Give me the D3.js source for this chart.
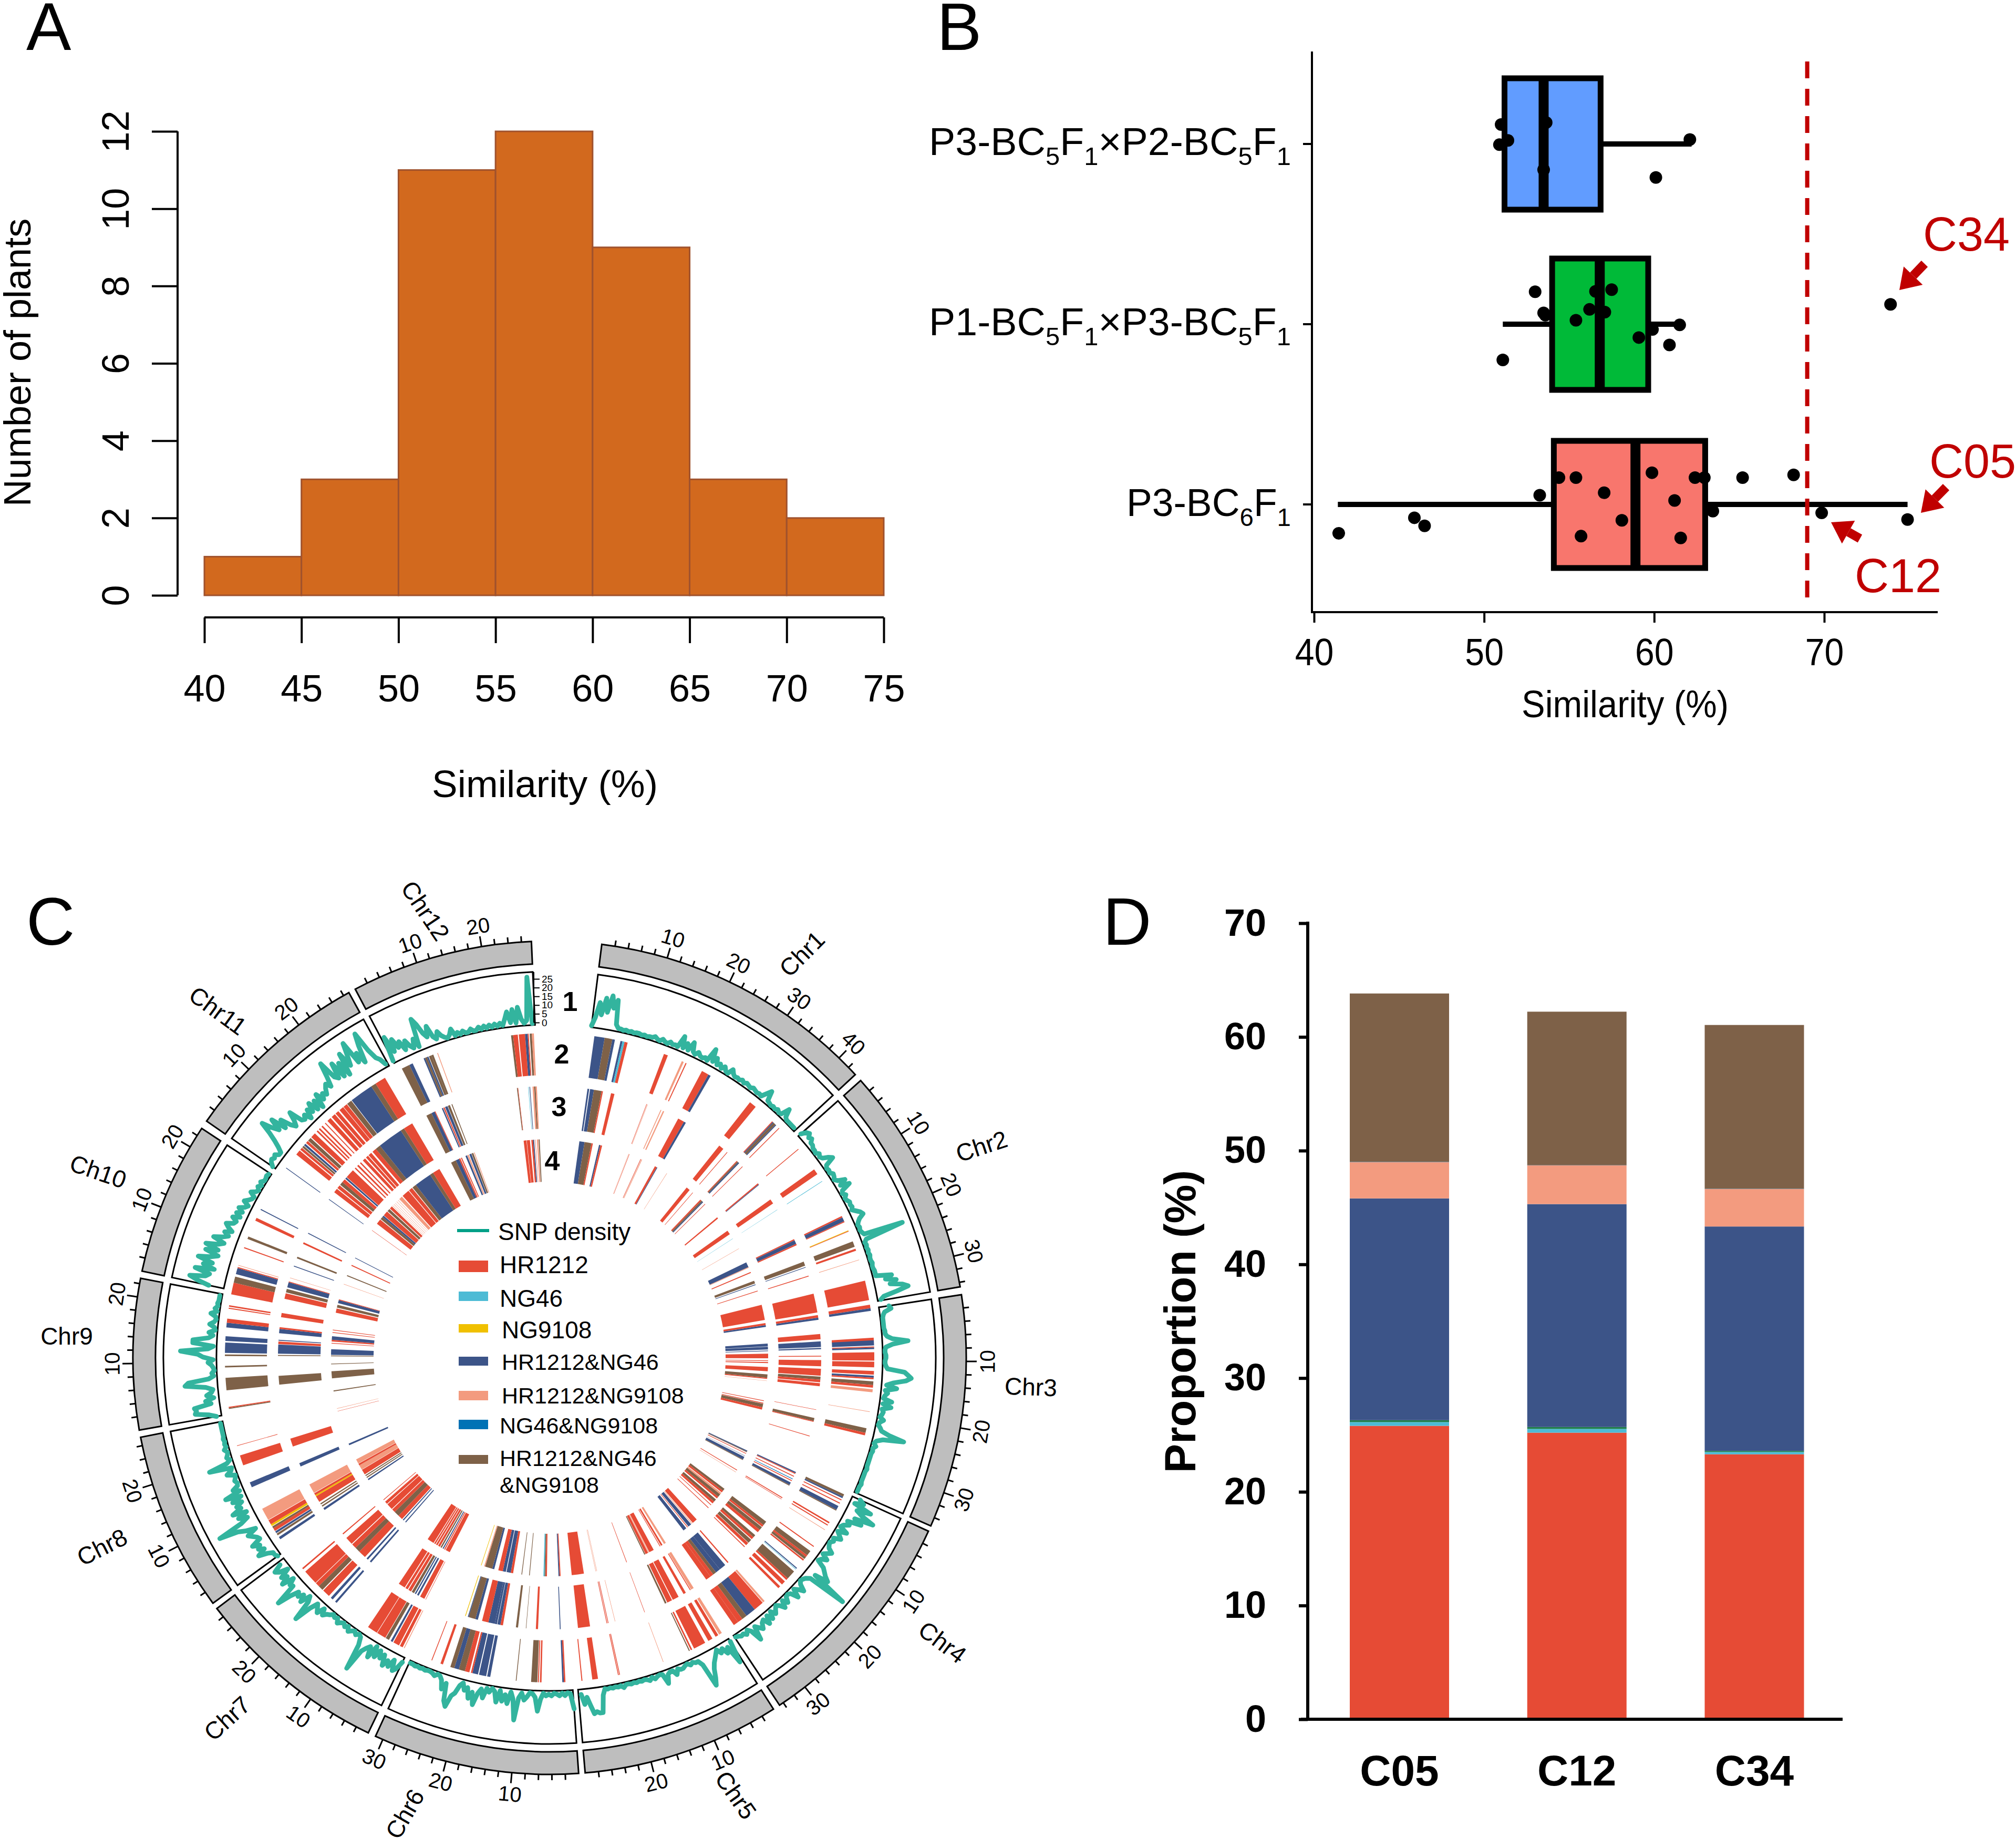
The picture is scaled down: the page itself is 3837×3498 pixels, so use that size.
<!DOCTYPE html>
<html><head><meta charset="utf-8">
<script src="https://cdn.jsdelivr.net/npm/d3@7"></script>
<style>html,body{margin:0;padding:0;background:#fff}svg{display:block}text{font-family:"Liberation Sans",Arial,sans-serif;fill:#000}</style>
</head><body><svg id="c" width="3837" height="3498" viewBox="0 0 3837 3498"></svg>
<script>
// ---------- Panel A ----------
const histEdges=[40,45,50,55,60,65,70,75];
const histCounts=[1,3,11,12,9,3,2];
const histYTicks=[0,2,4,6,8,10,12];
// ---------- Panel B ----------
const boxCategories=["P3-BC5F1×P2-BC5F1","P1-BC5F1×P3-BC5F1","P3-BC6F1"];
const boxColors=["#619CFF","#00BA38","#F8766D"];
const boxQ1=[51.2,54.0,54.1];
const boxMedian=[53.5,56.8,58.9];
const boxQ3=[56.85,59.65,63.0];
const boxWhiskerLow=[51.2,51.1,41.4];
const boxWhiskerHigh=[62.2,61.5,74.9];
const pointsValue1=[51.0,53.65,51.4,50.9,62.1,60.1,53.5];
const pointsJitter1=[-.108,-.119,-.02,.004,-.025,.186,.143];
const pointsValue2=[53.0,53.5,53.6,56.55,57.5,56.2,55.4,57.1,59.1,59.9,61.5,60.9,51.1,73.9];
const pointsJitter2=[-.18,-.063,-.05,-.182,-.192,-.082,-.022,-.067,.074,.029,.004,.115,.198,-.11];
const pointsValue3=[53.27,54.4,55.4,57.06,59.87,62.4,62.95,65.2,68.2,61.2,63.45,69.85,74.9,58.1,55.7,61.56,45.9,46.5,41.45];
const pointsJitter3=[-.051,-.149,-.149,-.065,-.176,-.149,-.149,-.149,-.164,-.022,.037,.047,.084,.088,.176,.186,.074,.119,.16];
const similarityCut=69;
// ---------- Panel D ----------
const stackCats=["C05","C12","C34"];
const valHR1212=[25.8,25.2,23.3];
const valNG46=[0.33,0.33,0.2];
const valNG9108=[0.17,0.17,0.1];
const valHRNG46=[19.5,19.6,19.73];
const valHRNG9108=[3.2,3.4,3.3];
const valNGNG=[0.02,0.02,0.02];
const valAll=[14.8,13.5,14.4];
const typeNames=["HR1212","NG46","NG9108","HR1212&NG46","HR1212&NG9108","NG46&NG9108","HR1212&NG46&NG9108"];
const typeCodes=["R","C","Y","B","P","N","K"];
const typeColors=["#E64B35","#4DBBD5","#F0C000","#3C5488","#F39B7F","#0072B5","#7E6148"];
const stackColors=["#E64B35","#4DBBD5","#1E7D4A","#3C5488","#F39B7F","#0072B5","#7E6148"];
// ---------- Panel C ----------
const chrNames=["Chr1","Chr2","Chr3","Chr4","Chr5","Chr6","Chr7","Chr8","Chr9","Ch10","Chr11","Chr12"];
const chrStartDeg=[7.2,48.3,81.3,114.6,147.5,176,205.8,233.9,260,282,304.6,332.2];
const chrEndDeg=[47.2,80.2,113.8,146.5,175.1,204.7,233,259,281,303.4,331.2,357.5];
const chrLength=[43.5,34.7,35.3,34.7,29.9,31.2,29.6,27.3,22.8,23.3,28.9,27.5];
const chrLabelX=[1526,1868,1962,1794,1401,770,432,194,127,187,415,810];
const chrLabelY=[1815,2181,2639,3125,3416,3452,3270,2944,2542,2229,1923,1733];
const chrLabelRot=[-45,-18,2,37,55,-60,-42,-27,0,19,36,56];
const snp1=[0,5,14,7,17,9,19,12,17,3,1,1,.5,1,.5,1,.5,1,1,.5,1,.5,1,1,2,1,.5,2,1,.5,2,1,1.5,1,8,1.5,5,1.5,7,2,1,3,1.5,1,2,1,9,2,5,1.5,3,1,3,1,.5,4,2,1,1.5,1,2,1,2,1.5,1,2,1.5,1,1.5,1,4,7,1.5,1,.5,1,.5,1.5,.5,1,6,1.5,.5,.5,.5,.5,.5];
const snp2=[1,4,5,3,4,2,2,1,1,.5,2,1,2,5,7,1.5,.5,1,.5,2,1.5,.5,2,6,2,7,1.5,.5,2,.5,1,2,1.5,2,1,3,5,6,3,1.5,.5,1,.5,1,2,25,2,.5,1,.5,1,.5,1,.5,.5,1,.5,.5,1,1,1,10,6,12,8,15,18,11,3,1];
const snp3=[5,6,2,1,.5,.5,.5,.5,.5,1,1,2,5,14,5,1,.5,.5,1,1,.5,.5,1,2,12,14,16,13,6,2,8,1.5,3,1.5,1,6,1,6,1,2,1.5,.5,3,1,.5,2,3,8,17,5,1.5,.5,2,.5,1,.5,.5,.5,.5,.5,.5,1,.5,.5,.5,.5,.5,1,.5,.5,.5];
const snp4=[4,7,2,13,5,9,17,6,11,3,5,2,1,6,1,3,5,1,2,.5,1,2,5,3,1,5,2,1,6,8,10,13,5,27,4,2,1,.5,2,6,3,1,6,1.5,.5,1,4,1,5,2,.5,2,4,1,5,1.5,6,2,3,6,4,2,10,3,1,3,1.5,2,1,.5];
const snp5=[1,14,3,6,2,4,1,3,5,7,10,15,19,5,2,2,1,2,.5,1,2,2,1,4,1,1,2,7,1,.5,1,2,.5,2,1,.5,1,.5,1,.5,1,.5,.5,2,.5,1,.5,1,.5,1,.5,4,14,14,13,14,9,4,8,2];
const snp6=[10,1,.5,2,.5,2,1,.5,2,1,2,.5,4,11,3,1,.5,3,5,1,4,17,5,1,8,3,7,1,8,2,.5,3,1,7,2,5,12,5,9,3,5,1,3,8,10,17,14,4,8,3,1,.5,2,1,.5,.5,1,.5,1,.5,1,.5,.5];
const snp7=[2,7,9,3,8,5,9,3,6,2,7,1,9,3,5,8,21,6,1.5,.5,2,.5,1.5,3,.5,2,.5,1.5,3,.5,1.5,.5,2,3,5,1.5,6,4,2,7,17,5,2,8,4,7,5,10,18,5,6,2,9,4,7,1,6,8,3];
const snp8=[1,2,2,5,10,5,8,6,10,4,5,7,9,3,9,13,24,9,4,9,3,11,5,7,3,8,2,11,1.5,5,1.5,1,2,1,.5,5,2,1,14,3,.5,2,1,.5,2,.5,1,.5,1,.5,.5,.5,.5,.5,.5];
const snp9=[2,6,14,13,14,4,7,2,6,3,2,6,18,16,4,1,2,.5,1,2,4,1,7,10,20,4,1,13,13,4,1.5,4,.5,1,4,1.5,.5,1,4,.5,2,.5,1,.5,.5,.5];
const snp10=[8,15,20,11,9,18,7,14,9,18,11,7,15,8,16,9,6,13,8,5,8,4,7,9,5,4,7,3,6,3,6,3,1.5,5,3,1.5,1,4,1.5,.5,2,.5,2,.5,.5,1,.5];
const snp11=[1,3,4,3,4,2,2,5,9,14,21,15,11,18,9,14,8,5,8,13,5,4,6,2,7,4,9,3,8,2,10,5,8,6,9,11,8,14,22,11,9,18,8,16,7,20,11,17,24,10,15,8,18,25,13,7,5,1];
const snp12=[.5,15,5,12,6,9,3,8,4,2,7,1.5,18,14,8,5,11,4,2,6,3,1.5,.5,2,5,.5,2,.5,2,.5,.5,2,.5,.5,2,.5,2,.5,2,.5,2,.5,2,.5,4,8,1.5,9,1,10,3,.5,2,27,0];
const snpTicks=[0,5,10,15,20,25];
const c1T2=[[.8,2.8,"B"],[2.8,4.3,"K"],[4.3,4.8,"B"],[5.9,6.3,"B"],[6.3,6.7,"C"],[6.7,7.3,"R"],[14.6,15.4,"R"],[18.3,18.7,"P"],[19.1,19.3,"R"],[22.6,24,"R"],[24,24.5,"B"],[33.6,35,"R"],[39.2,39.4,"R"],[39.4,39.6,"B"],[39.6,40.1,"K"],[40.1,40.3,"B"],[41,41.15,"R"]];
const c1T3=[[.9,1.3,"B"],[1.5,2.4,"B"],[2.4,4.2,"K"],[4.2,4.5,"R"],[6.4,7.2,"R"],[14.9,15,"R"],[15.1,15.2,"P"],[18.4,18.6,"P"],[19,19.3,"P"],[22.9,24.4,"R"],[24.4,24.9,"B"],[34.2,35.4,"R"],[36.5,36.65,"R"],[39.5,39.7,"R"],[39.7,40,"K"],[40,40.3,"B"],[41.3,41.45,"R"]];
const c1T4=[[.7,2.2,"B"],[2.2,4.2,"K"],[4.2,4.6,"R"],[6.4,6.8,"B"],[6.8,7.3,"R"],[15.2,15.3,"P"],[15.4,15.5,"R"],[18.9,19.05,"R"],[19.2,19.4,"P"],[23.5,24.1,"R"],[24.1,24.3,"B"],[27.4,27.5,"P"],[34.4,35.5,"R"],[36.6,36.75,"R"],[39.6,40,"R"],[40,40.4,"K"],[40.4,40.7,"B"],[41.4,41.55,"R"]];
const c2T2=[[1.8,1.95,"R"],[6.8,7.9,"R"],[9.5,9.6,"C"],[17.2,17.5,"R"],[17.5,18.3,"B"],[18.3,18.5,"R"],[20.2,20.35,"Y"],[20.35,20.45,"R"],[22.5,23.6,"K"],[24,24.4,"R"],[26.2,26.3,"P"],[30.4,34.2,"R"],[35.1,35.8,"R"],[35.8,36.3,"B"]];
const c2T3=[[1.9,2.2,"R"],[2.2,2.35,"B"],[6.6,7.7,"R"],[9.4,9.45,"C"],[17.2,17.5,"R"],[17.5,18.4,"B"],[18.4,18.7,"R"],[22.8,23.8,"K"],[24.1,24.25,"B"],[26.2,26.4,"R"],[30.5,34.9,"R"],[35.5,36.1,"R"],[36.1,36.6,"B"]];
const c2T4=[[1.9,2.3,"R"],[6.7,7.9,"R"],[9.4,9.45,"C"],[12.7,12.8,"P"],[17.2,18.7,"B"],[18.7,18.9,"P"],[20.2,20.5,"R"],[22.9,23.7,"K"],[24,24.2,"B"],[25.9,26.1,"R"],[30.1,34.5,"R"],[35.4,36,"R"],[36,36.5,"B"]];
const c3T2=[[5.6,6.2,"R"],[6.1,7.1,"B"],[7.3,7.5,"R"],[7.5,7.8,"B"],[8.4,10,"R"],[10.2,11.3,"R"],[12,12.7,"R"],[12.9,13.3,"B"],[13.3,13.6,"R"],[14,14.7,"K"],[14.7,15.2,"R"],[15.5,16.1,"P"],[19.8,19.9,"P"],[23.1,24,"K"],[24,24.5,"R"]];
const c3T3=[[4,5.2,"R"],[5.7,7,"B"],[7.2,7.5,"B"],[9,9.2,"R"],[10,11.4,"R"],[12,13.6,"R"],[13.8,14.5,"K"],[14.5,15.1,"R"],[15.3,16,"R"],[21.4,21.5,"R"],[23.4,24.1,"K"],[24.1,24.3,"R"],[27.6,27.75,"R"]];
const c3T4=[[5.4,6.2,"B"],[6.3,7.1,"B"],[7.4,7.6,"B"],[8.3,9.6,"R"],[10.2,10.4,"R"],[10.7,11,"R"],[12.1,13.3,"R"],[14.2,15.2,"K"],[15.2,15.5,"R"],[16,16.1,"P"],[21.7,21.9,"R"],[22.4,22.6,"R"],[22.7,23.7,"K"],[23.7,24.4,"R"]];
const c4T2=[[.3,.8,"K"],[.8,1.1,"B"],[1.4,1.6,"R"],[2.1,2.3,"R"],[2.8,3.6,"B"],[3.6,3.8,"K"],[6.3,6.6,"R"],[6.9,7.1,"R"],[8,8.1,"P"],[11.8,12,"R"],[13,14,"K"],[14,14.4,"R"],[14.4,14.9,"K"],[15,15.3,"R"],[17.1,17.3,"B"],[17.4,17.5,"C"],[18,19.8,"K"],[19.8,20.2,"R"],[20.6,21.4,"R"],[21.9,22.4,"R"],[26,26.4,"P"],[26.5,28.5,"R"],[28.5,30.5,"B"],[30.5,31.5,"K"],[31.5,32.5,"R"],[32.5,33.5,"R"]];
const c4T3=[[.3,.6,"B"],[.6,.8,"R"],[1.3,1.5,"R"],[2,2.15,"N"],[2.4,2.6,"R"],[3,3.6,"B"],[3.6,3.8,"K"],[6.9,7.1,"R"],[7.3,7.4,"R"],[13.6,14.6,"K"],[14.6,15.1,"R"],[15.2,16,"K"],[16,16.7,"R"],[17.6,18.2,"K"],[18.2,18.8,"R"],[19,19.9,"K"],[20,20.7,"R"],[21.1,21.3,"R"],[26.3,26.6,"R"],[27.3,28.9,"B"],[28.9,30,"B"],[30,30.8,"K"],[30.8,31.6,"R"],[31.6,32.8,"R"]];
const c4T4=[[.6,.9,"B"],[.9,1.1,"K"],[1.4,1.6,"R"],[2.2,2.3,"B"],[2.6,3.4,"B"],[3.4,3.6,"K"],[6.8,7,"R"],[7.5,7.6,"P"],[13.3,14,"K"],[14,14.6,"R"],[14.8,15.3,"P"],[15.3,16.2,"K"],[16.2,16.8,"R"],[17.2,18,"K"],[18,18.7,"R"],[19.2,19.4,"R"],[20.3,20.5,"R"],[25.1,26.6,"R"],[26.8,27,"P"],[27.2,28.2,"B"],[28.4,28.6,"R"],[29,30,"B"]];
const c5T2=[[.5,1.1,"P"],[1.3,1.9,"R"],[2.6,3.5,"R"],[4.2,6.6,"R"],[7,7.3,"R"],[7.5,7.7,"K"],[13,13.1,"P"],[21.7,21.85,"R"],[21.95,22.1,"R"],[26,27.1,"R"],[29,29.2,"R"]];
const c5T3=[[.5,1.2,"P"],[1.3,1.5,"R"],[2.6,3.2,"R"],[4.5,6,"R"],[6.2,7.4,"R"],[7.6,8,"K"],[13,13.1,"R"],[20.1,20.2,"P"],[21.7,21.85,"R"],[22,22.15,"R"],[26,28.8,"R"]];
const c5T4=[[.4,1,"P"],[1.5,2,"R"],[2.2,2.4,"R"],[4.4,5.8,"R"],[5.9,6.1,"P"],[6.2,7,"R"],[7.1,7.4,"K"],[12.8,12.95,"R"],[21.7,21.8,"P"],[22,22.1,"P"],[25.5,29,"R"]];
const c6T2=[[1.3,1.6,"R"],[1.6,1.9,"B"],[5.9,6.2,"R"],[6.4,6.6,"R"],[6.7,7.9,"K"],[10.7,10.85,"K"],[15.8,16.4,"B"],[16.6,18,"B"],[18.2,19.3,"B"],[19.3,19.6,"R"],[19.9,20.8,"R"],[20.8,22,"K"],[22,22.9,"B"],[22.9,23.7,"K"],[25.2,25.7,"R"],[27.4,27.55,"R"]];
const c6T3=[[1.8,2,"B"],[7,7.5,"R"],[9.7,9.8,"K"],[11.6,12.1,"K"],[15.1,15.7,"R"],[15.7,16.4,"B"],[16.5,17,"B"],[17,18.5,"B"],[18.5,20,"R"],[21,21.6,"B"],[21.6,23.2,"K"],[23.2,23.4,"B"],[23.9,24.05,"Y"]];
const c6T4=[[1.2,1.5,"R"],[1.5,1.8,"B"],[5.1,5.5,"R"],[5.5,5.8,"K"],[5.8,6.1,"C"],[10,10.2,"K"],[12.2,12.4,"K"],[14.8,15.5,"R"],[15.5,16.7,"B"],[16.9,17.8,"B"],[17.8,19.1,"R"],[20.3,20.9,"B"],[20.9,23,"K"],[23,23.3,"P"],[24.1,24.25,"Y"]];
const c7T2=[[.8,.95,"P"],[1.2,1.8,"R"],[2,3.2,"R"],[3.4,3.8,"B"],[4.2,4.9,"K"],[5,6.8,"R"],[6.9,8.9,"R"],[16.5,16.9,"B"],[17.5,18,"B"],[18.5,20,"R"],[20.2,21.2,"K"],[21.2,22,"R"],[22.1,25,"R"],[25.6,25.9,"R"]];
const c7T3=[[1.4,1.5,"R"],[1.8,2.9,"R"],[3.3,3.7,"B"],[4,4.3,"B"],[4.5,5.1,"K"],[5.3,6,"R"],[6.2,6.8,"R"],[7,8.6,"R"],[16.6,17,"B"],[17.6,18,"B"],[18.5,20.3,"R"],[20.3,21.5,"K"],[21.5,22.6,"R"],[22.8,24.6,"R"],[25.7,25.95,"R"]];
const c7T4=[[1.5,2.8,"R"],[3,3.3,"R"],[3.5,3.8,"B"],[4.1,4.5,"K"],[4.7,5.3,"R"],[5.5,6,"R"],[6.2,6.6,"R"],[6.8,8.8,"R"],[16.6,16.9,"B"],[17.5,17.8,"B"],[18.1,19.5,"R"],[19.5,21,"K"],[21,22,"R"],[22.2,24,"R"],[24.2,25,"R"],[25.6,25.8,"R"]];
const c8T2=[[2.3,2.8,"B"],[3.2,3.6,"K"],[3.7,4.1,"B"],[4.2,4.8,"R"],[4.8,5.2,"K"],[5.3,5.7,"Y"],[5.7,6.6,"R"],[6.7,9.1,"P"],[13.7,14.7,"B"],[18.2,20.2,"R"],[22.1,22.2,"R"]];
const c8T3=[[2.2,2.7,"B"],[3.1,3.4,"K"],[3.7,4,"K"],[4.4,5.9,"R"],[5.9,6.2,"Y"],[6.2,6.7,"R"],[6.8,9,"P"],[13.6,14.4,"B"],[18.5,20.4,"R"]];
const c8T4=[[2.2,2.6,"B"],[3,3.3,"K"],[3.6,3.9,"K"],[4.2,5.7,"R"],[5.8,7.2,"P"],[7.2,7.7,"R"],[7.8,9.1,"P"],[13.6,14.1,"B"],[23.8,23.9,"R"],[24.6,24.7,"P"]];
const c9T2=[[1,1.2,"K"],[1.2,1.4,"R"],[4.6,7,"K"],[9,9.3,"K"],[11.2,11.5,"K"],[11.8,13.8,"B"],[14.1,15,"B"],[16.7,17.6,"B"],[17.6,18.4,"R"],[20.3,20.5,"R"],[20.7,21,"R"]];
const c9T3=[[4.7,6.7,"K"],[11.3,11.5,"K"],[11.8,13.9,"B"],[14,14.6,"R"],[14.8,15,"B"],[16.5,17.5,"B"],[17.5,17.9,"R"],[20.2,21.2,"R"]];
const c9T4=[[1.2,1.5,"K"],[5,7,"K"],[9,9.2,"K"],[11.3,11.5,"K"],[11.7,13.3,"B"],[14.9,15.1,"R"],[15.5,16,"R"],[16,17,"B"],[18,18.2,"R"],[18.7,18.9,"R"]];
const c10T2=[[-.8,1.5,"R"],[1.5,2.7,"K"],[3.2,4.4,"B"],[4.4,4.6,"R"],[4.9,5,"P"],[8.4,8.6,"R"],[10.3,10.8,"K"],[14.1,14.7,"R"],[16.4,16.6,"B"]];
const c10T3=[[.6,1.9,"R"],[2.1,2.9,"K"],[3.3,4.5,"B"],[4.5,4.7,"R"],[5.5,5.6,"P"],[8.3,8.5,"B"],[10.3,10.7,"K"],[13.9,14.3,"R"],[16.5,16.7,"B"]];
const c10T4=[[-.1,1.1,"R"],[1.4,2.2,"K"],[2.7,3.6,"B"],[3.6,3.8,"R"],[8.3,8.4,"P"],[10.8,11.1,"K"],[14,14.3,"R"],[16.4,16.6,"B"]];
const c11T2=[[1.2,1.35,"B"],[4.5,5.5,"R"],[5.7,6.2,"R"],[6.3,6.7,"K"],[6.8,7.2,"B"],[7.4,7.9,"R"],[8,8.7,"K"],[8.9,9.9,"R"],[10.4,10.7,"R"],[11,11.3,"R"],[11.7,12,"R"],[12.6,12.8,"R"],[13.3,14.1,"R"],[14.4,15.2,"R"],[15.4,16.1,"R"],[16.4,17.3,"R"],[17.4,18.2,"R"],[18.3,19.3,"K"],[19.4,24,"B"],[24,25,"K"],[25,27.1,"R"]];
const c11T3=[[1.1,1.25,"B"],[3.2,4.2,"R"],[4.4,5.2,"R"],[5.4,6.2,"K"],[6.2,7,"R"],[7.2,7.6,"B"],[7.7,9.8,"R"],[10.4,10.7,"R"],[11.2,11.6,"R"],[12.1,12.4,"R"],[13,13.7,"R"],[14,14.6,"R"],[14.8,15.6,"R"],[16,17,"R"],[17,18.2,"K"],[18.2,24.1,"B"],[24.1,25,"K"],[25,27.2,"R"]];
const c11T4=[[1.1,1.2,"R"],[3.5,5,"R"],[5.2,6,"K"],[6,6.5,"B"],[6.6,8,"R"],[8.2,9,"K"],[9.2,10,"R"],[10.3,10.4,"P"],[10.8,10.9,"P"],[11.3,11.4,"P"],[11.9,12,"P"],[12.5,12.6,"P"],[13,14,"P"],[14.3,16.5,"R"],[16.7,17.8,"R"],[18,19.2,"K"],[19.2,24.2,"B"],[24.2,25.2,"K"],[25.2,27.3,"R"]];
const c12T2=[[.8,2.4,"K"],[2.4,3.1,"B"],[5.4,5.7,"B"],[5.7,6.1,"K"],[6.1,6.4,"B"],[6.5,7,"K"],[7,7.4,"K"],[8.2,8.35,"P"],[22.8,23.2,"K"],[23.2,24.1,"R"],[24.3,25.5,"R"],[25.5,26,"B"],[26,26.2,"R"],[26.4,26.8,"K"],[26.8,27.2,"P"]];
const c12T3=[[.9,2.2,"K"],[2.2,3,"B"],[3,3.2,"R"],[4.8,5.1,"B"],[5.2,5.5,"R"],[5.6,6.2,"B"],[6.3,6.8,"K"],[7.2,7.4,"K"],[22.7,22.9,"K"],[22.9,23,"R"],[25.3,25.4,"C"],[25.6,25.75,"B"],[26.3,26.7,"P"],[26.7,27,"K"],[27,27.3,"P"]];
const c12T4=[[1.1,2.6,"K"],[2.6,3.6,"B"],[3.6,4,"R"],[4.2,4.5,"R"],[5.6,6.1,"B"],[6.2,6.6,"P"],[6.8,7.4,"B"],[7.5,8,"K"],[8.2,8.4,"P"],[22.8,23.6,"R"],[23.7,24.6,"R"],[25,25.5,"R"],[25.5,25.8,"B"],[26.1,26.2,"R"],[26.6,27,"P"],[27.1,27.4,"K"]];

const svg=d3.select("#c");
const letter=(t,x,y)=>svg.append("text").text(t).attr("x",x).attr("y",y).attr("font-size",128);
letter("A",50,95);letter("B",1783,95);letter("C",50,1798);letter("D",2099,1798);

// ===== Panel A =====
(function(){
 const g=svg.append("g");
 const x=d3.scaleLinear().domain([40,75]).range([389,1682]);
 const y=d3.scaleLinear().domain([0,12]).range([1133,250]);
 g.selectAll("rect").data(histCounts).join("rect")
  .attr("x",(d,i)=>x(histEdges[i])).attr("width",(d,i)=>x(histEdges[i+1])-x(histEdges[i]))
  .attr("y",d=>y(d)).attr("height",d=>y(0)-y(d)).attr("fill","#D2691E").attr("stroke","#A0522D").attr("stroke-width",3);
 const ax=g.append("g").attr("transform","translate(0,1175)").call(d3.axisBottom(x).tickValues(histEdges).tickSize(49).tickPadding(60));
 const ay=g.append("g").attr("transform","translate(338,0)").call(d3.axisLeft(y).tickValues(histYTicks).tickSize(49));
 [ax,ay].forEach(a=>{a.selectAll("path,line").attr("stroke","#000").attr("stroke-width",4);a.selectAll("text").attr("font-size",72).attr("font-family",null);});
 ax.select("path").attr("d",`M${x(40)},0H${x(75)}`);
 ay.select("path").attr("d",`M0,${y(0)}V${y(12)}`);
 ay.selectAll("text").attr("x",null).attr("y",null).attr("dy",null).attr("text-anchor","middle")
  .attr("transform","translate(-93,0) rotate(-90)");
 g.append("text").text("Similarity (%)").attr("font-size",73).attr("x",1037).attr("y",1517).attr("text-anchor","middle");
 g.append("text").text("Number of plants").attr("transform","translate(58,690) rotate(-90)").attr("text-anchor","middle").attr("font-size",72);
})();

// ===== Panel B =====
(function(){
 const g=svg.append("g");
 const x=d3.scaleLinear().domain([40,70]).range([2501,3472]);
 const y=d3.scaleLinear().domain([0,2]).range([274,960]);
 g.append("path").attr("d",`M2497,98V1165H3688`).attr("fill","none").attr("stroke","#000").attr("stroke-width",4);
 const ax=g.append("g").attr("transform","translate(0,1165)").call(d3.axisBottom(x).tickValues([40,50,60,70]).tickSize(20).tickPadding(30));
 ax.select("path").remove();
 ax.selectAll("line").attr("stroke","#000").attr("stroke-width",4);
 ax.selectAll("text").attr("font-size",72).attr("font-family",null).attr("transform","scale(0.92,1)");
 g.selectAll("line.yt").data(boxCategories).join("line").attr("x1",2480).attr("x2",2497)
  .attr("y1",(d,i)=>y(i)).attr("y2",(d,i)=>y(i)).attr("stroke","#000").attr("stroke-width",4);
 const halfH=[125,125,121];
 boxCategories.forEach((c,i)=>{
  g.append("line").attr("x1",x(boxWhiskerLow[i])).attr("x2",x(boxWhiskerHigh[i])).attr("y1",y(i)).attr("y2",y(i)).attr("stroke","#000").attr("stroke-width",10);
  g.append("rect").attr("x",x(boxQ1[i])).attr("width",x(boxQ3[i])-x(boxQ1[i])).attr("y",y(i)-halfH[i]).attr("height",2*halfH[i])
   .attr("fill",boxColors[i]).attr("stroke","#000").attr("stroke-width",11);
  g.append("line").attr("x1",x(boxMedian[i])).attr("x2",x(boxMedian[i])).attr("y1",y(i)-halfH[i]).attr("y2",y(i)+halfH[i]).attr("stroke","#000").attr("stroke-width",19);
 });
 g.append("line").attr("x1",x(similarityCut)).attr("x2",x(similarityCut)).attr("y1",117).attr("y2",1157)
  .attr("stroke","#C00000").attr("stroke-width",8).attr("stroke-dasharray","32,20");
 [[pointsValue1,pointsJitter1],[pointsValue2,pointsJitter2],[pointsValue3,pointsJitter3]].forEach((p,i)=>{
  g.selectAll("circle.p"+i).data(p[0]).join("circle").attr("cx",d=>x(d)).attr("cy",(d,k)=>y(i+p[1][k])).attr("r",12).attr("fill","#000");
 });
 const subs=[["P3-BC","5","F","1","×P2-BC","5","F","1"],["P1-BC","5","F","1","×P3-BC","5","F","1"],["P3-BC","6","F","1"]];
 const targets=[[689,295],[689,638],[313,982]];
 subs.forEach((parts,i)=>{
  const t=g.append("text").attr("font-size",74);
  let low=false;
  parts.forEach((p,k)=>{
   const isSub=k%2===1;
   const ts=t.append("tspan").text(p);
   if(isSub){ts.attr("font-size",48).attr("dy",19);low=true;}
   else if(low){ts.attr("dy",-19);low=false;}
  });
  const L=t.node().getComputedTextLength();
  t.attr("transform",`translate(${2457-targets[i][0]},${targets[i][1]}) scale(${targets[i][0]/L},1)`);
 });
 const xl=g.append("text").text("Similarity (%)").attr("font-size",72);
 const Lx=xl.node().getComputedTextLength();
 xl.attr("transform",`translate(${3093-197},1365) scale(${394/Lx},1)`);
 const red="#C00000";
 [["C34",3660,477],["C05",3672,909],["C12",3530,1127]].forEach(a=>{
  g.append("text").text(a[0]).attr("x",a[1]).attr("y",a[2]).attr("font-size",90).style("fill",red);
 });
 [[3663,502,3615,552],[3704,927,3656,976],[3540,1025,3485,994]].forEach(a=>{
  const [x0,y0,x1,y1]=a,dx=x1-x0,dy=y1-y0,L=Math.hypot(dx,dy),ux=dx/L,uy=dy/L,nx=-uy,ny=ux,h=38,w=25;
  const bx=x1-ux*h,by=y1-uy*h;
  g.append("line").attr("x1",x0).attr("y1",y0).attr("x2",bx).attr("y2",by).attr("stroke",red).attr("stroke-width",17);
  g.append("path").attr("d",d3.line()([[x1,y1],[bx+nx*w,by+ny*w],[bx-nx*w,by-ny*w]])+"Z").attr("fill",red);
 });
})();

// ===== Panel C =====
(function(){
 const cx=1046,cy=2584,perMb=0.92,rad=Math.PI/180;
 const g=svg.append("g").attr("transform",`translate(${cx},${cy})`);
 const snps=[snp1,snp2,snp3,snp4,snp5,snp6,snp7,snp8,snp9,snp10,snp11,snp12];
 const tracks=[[c1T2,c1T3,c1T4],[c2T2,c2T3,c2T4],[c3T2,c3T3,c3T4],[c4T2,c4T3,c4T4],[c5T2,c5T3,c5T4],[c6T2,c6T3,c6T4],[c7T2,c7T3,c7T4],[c8T2,c8T3,c8T4],[c9T2,c9T3,c9T4],[c10T2,c10T3,c10T4],[c11T2,c11T3,c11T4],[c12T2,c12T3,c12T4]];
 const trackR=[[538,618],[436,517],[335,416]];
 const color=d3.scaleOrdinal(typeCodes,typeColors);
 const arc=d3.arc();
 const rS=d3.scaleLinear().domain([0,25]).range([637,719]);
 chrNames.forEach((name,i)=>{
  const a0=chrStartDeg[i]*rad,a1=chrEndDeg[i]*rad;
  const ang=d3.scaleLinear().domain([0,1]).range([chrStartDeg[i],chrStartDeg[i]+perMb]);
  g.append("path").attr("d",arc({innerRadius:750,outerRadius:793,startAngle:a0,endAngle:a1})).attr("fill","#BEBEBE").attr("stroke","#000").attr("stroke-width",3);
  for(let m=2;m<=chrLength[i];m+=2){
   const a=ang(m)*rad,maj=m%10===0,r2=793+(maj?20:11);
   g.append("line").attr("x1",793*Math.sin(a)).attr("y1",-793*Math.cos(a)).attr("x2",r2*Math.sin(a)).attr("y2",-r2*Math.cos(a)).attr("stroke","#000").attr("stroke-width",3);
   if(maj){
    const deg=ang(m),rot=deg<90?deg:(deg<265?deg-180:deg-360);
    g.append("text").text(m).attr("transform",`translate(${833*Math.sin(a)},${-833*Math.cos(a)}) rotate(${rot})`)
     .attr("text-anchor","middle").attr("dy","0.36em").attr("font-size",40);
   }
  }
  g.append("path").attr("d",arc({innerRadius:634,outerRadius:735,startAngle:a0,endAngle:a1})).attr("fill","#fff").attr("stroke","#000").attr("stroke-width",3);
  tracks[i].forEach((segs,t)=>{
   g.selectAll(null).data(segs).join("path").attr("fill",d=>color(d[2]))
    .attr("d",d=>arc({innerRadius:trackR[t][0],outerRadius:trackR[t][1],startAngle:ang(d[0])*rad,endAngle:ang(d[1])*rad}));
  });
  const line=d3.lineRadial().angle((d,k)=>ang(k*0.5)*rad).radius(d=>rS(d)).curve(d3.curveLinear);
  g.append("path").attr("d",line(snps[i])).attr("fill","none").attr("stroke","#33B49E").attr("stroke-width",9).attr("stroke-linejoin","round").attr("stroke-linecap","round");
  svg.append("text").text(name).attr("transform",`translate(${chrLabelX[i]},${chrLabelY[i]}) rotate(${chrLabelRot[i]})`)
   .attr("text-anchor","middle").attr("dy","0.36em").attr("font-size",46);
 });
 const ay=d3.scaleLinear().domain([0,25]).range([1946,1863]);
 const ag=svg.append("g").attr("transform","translate(1016,0)").call(d3.axisRight(ay).tickValues(snpTicks).tickSize(11).tickPadding(4));
 ag.selectAll("path,line").attr("stroke","#000").attr("stroke-width",2);
 ag.select("path").attr("d",`M0,1946V1850`);
 ag.selectAll("text").attr("font-size",19).attr("font-family",null);
 [["1",1085,1905],["2",1069,2005],["3",1064,2105],["4",1051,2208]].forEach(d=>{
  svg.append("text").text(d[0]).attr("x",d[1]).attr("y",d[2]).attr("dy","0.36em").attr("text-anchor","middle").attr("font-size",52).attr("font-weight","bold");
 });
 const lg=svg.append("g");
 lg.append("line").attr("x1",870).attr("x2",931).attr("y1",2342).attr("y2",2342).attr("stroke","#00A087").attr("stroke-width",6);
 lg.append("text").text("SNP density").attr("x",948).attr("y",2360).attr("font-size",46);
 const swY=[2399,2458,2520,2582,2647,2702,2769],swH=[22,18,16,17,18,18,17],txX=[951,951,955,955,955,951,951],txY=[2423,2487,2547,2607,2671,2728,2790];
 typeNames.forEach((n,i)=>{
  lg.append("rect").attr("x",873).attr("width",56).attr("y",swY[i]).attr("height",swH[i]).attr("fill",typeColors[i]);
  lg.append("text").text(i===6?"HR1212&NG46":n).attr("x",txX[i]).attr("y",txY[i]).attr("font-size",n.includes("&")?43:46);
 });
 lg.append("text").text("&NG9108").attr("x",951).attr("y",2841).attr("font-size",43);
})();

// ===== Panel D =====
(function(){
 const g=svg.append("g");
 const y=d3.scaleLinear().domain([0,70]).range([3272,1757]);
 const rows=stackCats.map((c,i)=>({c,R:valHR1212[i],C:valNG46[i],Y:valNG9108[i],B:valHRNG46[i],P:valHRNG9108[i],N:valNGNG[i],K:valAll[i]}));
 const series=d3.stack().keys(typeCodes)(rows);
 const bw=189;
 const x=d3.scalePoint().domain(stackCats).range([2663.5,3339]);
 series.forEach((s,j)=>{
  g.selectAll(null).data(s).join("rect").attr("x",(d,i)=>x(stackCats[i])-bw/2).attr("width",bw)
   .attr("y",d=>y(d[1])).attr("height",d=>y(d[0])-y(d[1])).attr("fill",stackColors[j]);
 });
 const ay=g.append("g").attr("transform","translate(2489,0)").call(d3.axisLeft(y).tickValues(d3.range(0,71,10)).tickSize(17).tickPadding(62));
 ay.selectAll("path,line").attr("stroke","#000").attr("stroke-width",6);
 ay.select("path").attr("d",`M0,${y(0)+3}V${y(70)-3}`);
 ay.selectAll("text").attr("font-size",72).attr("font-weight","bold").attr("font-family",null);
 g.append("line").attr("x1",2476).attr("x2",3507).attr("y1",y(0)).attr("y2",y(0)).attr("stroke","#000").attr("stroke-width",6);
 stackCats.forEach(c=>g.append("text").text(c).attr("x",x(c)).attr("y",3398).attr("text-anchor","middle").attr("font-size",82).attr("font-weight","bold"));
 g.append("text").text("Proportion (%)").attr("transform","translate(2275,2515) rotate(-90)").attr("text-anchor","middle").attr("font-size",83).attr("font-weight","bold");
})();
</script></body></html>
